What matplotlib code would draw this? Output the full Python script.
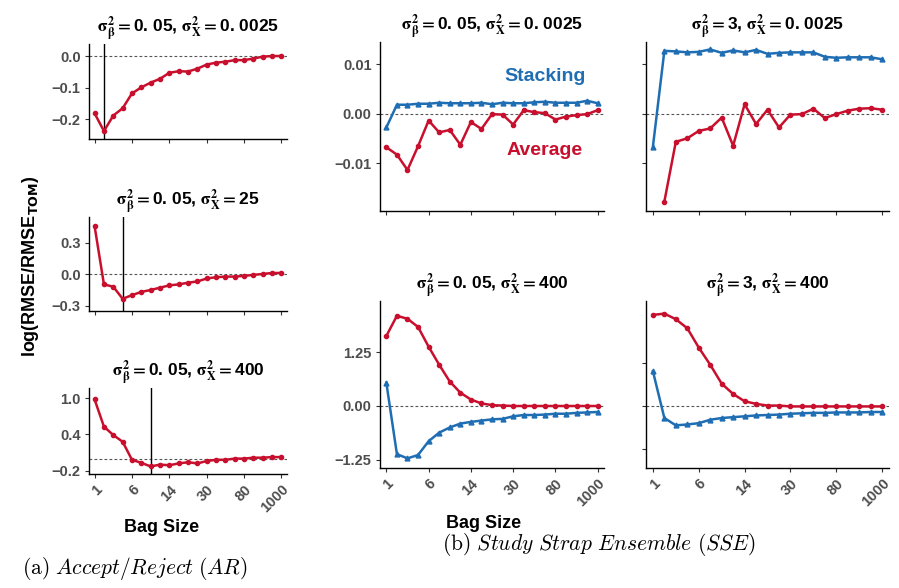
import numpy as np
import matplotlib
matplotlib.use('Agg')
import matplotlib.pyplot as plt

plt.rcParams['font.family'] = ['Liberation Sans', 'DejaVu Sans']
plt.rcParams['font.weight'] = 'bold'

RED = '#C8102E'
BLUE = '#1F6DB3'
TICK_GRAY = '#4D4D4D'

# bag sizes are plotted as 21 evenly spaced categories, labelled every 4th
bag_labels = ['1', '6', '14', '30', '80', '1000']
n_bags = 21
x = np.arange(n_bags)

# Accept/Reject curves (sigma_beta^2 = 0.05)
ar_x0025 = [-0.181, -0.237, -0.188, -0.165, -0.118, -0.099, -0.084, -0.072, -0.053, -0.048, -0.049,
            -0.040, -0.027, -0.021, -0.018, -0.013, -0.013, -0.008, -0.002, 0.000, 0.000]
ar_x25 = [0.455, -0.096, -0.118, -0.232, -0.198, -0.167, -0.149, -0.127, -0.105, -0.096, -0.080,
          -0.068, -0.040, -0.028, -0.022, -0.022, -0.015, -0.006, 0.003, 0.012, 0.012]
ar_x400 = [0.98, 0.53, 0.39, 0.28, -0.02, -0.07, -0.13, -0.10, -0.11, -0.08, -0.06,
           -0.08, -0.04, -0.02, -0.02, 0.00, 0.00, 0.015, 0.015, 0.025, 0.025]
ar_best = [1, 3, 6]  # position of the chosen bag size in each AR panel

# Study Strap Ensemble curves
sse_stack_b05_x0025 = [-0.0028, 0.0018, 0.0018, 0.0020, 0.0020, 0.0022, 0.0021, 0.0021, 0.0021, 0.0022, 0.0019,
                       0.0022, 0.0021, 0.0021, 0.0023, 0.0024, 0.0022, 0.0022, 0.0022, 0.0026, 0.0021]
sse_avg_b05_x0025 = [-0.0068, -0.0083, -0.0114, -0.0066, -0.0014, -0.0038, -0.0033, -0.0063, -0.0017, -0.0031, -0.0001,
                     -0.0002, -0.0022, 0.0007, 0.0003, 0.0001, -0.0012, -0.0006, -0.0003, -0.0001, 0.0007]
sse_stack_b3_x0025 = [-0.0067, 0.0127, 0.0126, 0.0124, 0.0125, 0.0130, 0.0123, 0.0128, 0.0124, 0.0129, 0.0121,
                      0.0123, 0.0124, 0.0124, 0.0124, 0.0115, 0.0113, 0.0114, 0.0114, 0.0114, 0.0110]
sse_avg_b3_x0025 = [np.nan, -0.0178, -0.0057, -0.0050, -0.0035, -0.0030, -0.0008, -0.0065, 0.0019, -0.0021, 0.0008,
                    -0.0028, -0.0002, -0.0001, 0.0010, -0.0009, -0.0001, 0.0006, 0.0010, 0.0011, 0.0008]
sse_stack_b05_x400 = [0.54, -1.12, -1.22, -1.14, -0.82, -0.62, -0.50, -0.41, -0.37, -0.34, -0.31,
                      -0.30, -0.24, -0.21, -0.21, -0.20, -0.18, -0.18, -0.16, -0.15, -0.14]
sse_avg_b05_x400 = [1.63, 2.10, 2.03, 1.84, 1.38, 0.96, 0.57, 0.31, 0.15, 0.06, 0.02,
                    0.01, 0.00, 0.00, 0.00, 0.00, 0.00, 0.00, 0.00, 0.00, 0.00]
sse_stack_b3_x400 = [0.81, -0.28, -0.45, -0.43, -0.40, -0.32, -0.28, -0.26, -0.24, -0.22, -0.21,
                     -0.20, -0.18, -0.17, -0.16, -0.16, -0.15, -0.15, -0.15, -0.14, -0.14]
sse_avg_b3_x400 = [2.12, 2.15, 2.02, 1.81, 1.36, 0.96, 0.52, 0.28, 0.11, 0.05, 0.01,
                   0.01, -0.01, -0.01, -0.01, -0.01, -0.01, -0.01, -0.01, -0.01, -0.01]


def title(beta, xvar):
    return (r'$\mathrm{\sigma}^2_\mathrm{\beta}=$' + beta + ', '
            + r'$\mathrm{\sigma}^2_\mathbf{X}=$' + xvar)


def fmt(v, nd):
    s = f'{abs(v):.{nd}f}'
    return ('\u2212' + s) if v < 0 else s


def style(ax, ylim, yticks, nd, show_y=True, show_x=False):
    ax.set_xlim(-0.6, n_bags - 0.4)
    ax.set_ylim(*ylim)
    for side in ['top', 'right']:
        ax.spines[side].set_visible(False)
    for side in ['left', 'bottom']:
        ax.spines[side].set_linewidth(1.0)
    ax.set_xticks(np.arange(0, n_bags, 4))
    if show_x:
        ax.set_xticklabels(bag_labels, rotation=45, ha='right', va='top',
                           rotation_mode='anchor', fontsize=10.5, color=TICK_GRAY)
    else:
        ax.set_xticklabels([])
    ax.set_yticks(yticks)
    if show_y:
        ax.set_yticklabels([fmt(v, nd) for v in yticks], fontsize=10.5, color=TICK_GRAY)
    else:
        ax.set_yticklabels([])
    ax.tick_params(length=3, width=0.8, color='#333333', pad=3)
    ax.axhline(0, color='#555555', lw=0.8, ls=(0, (2.5, 2)), zorder=1)


def draw_avg(ax, y):
    ax.plot(x, y, color=RED, lw=1.8, marker='o', ms=3, zorder=3)


def draw_stack(ax, y):
    ax.plot(x, y, color=BLUE, lw=1.8, marker='^', ms=3.5, zorder=3)


fig = plt.figure(figsize=(8.99, 5.88), dpi=100)

# (a) Accept/Reject column
ar_rects = [[0.099, 0.7636, 0.2203, 0.1616],
            [0.099, 0.4711, 0.2203, 0.1599],
            [0.099, 0.1939, 0.2203, 0.1463]]
ar_series = [ar_x0025, ar_x25, ar_x400]
ar_titles = [title('0. 05', '0. 0025'), title('0. 05', '25'), title('0. 05', '400')]
ar_lims = [(-0.262, 0.038), (-0.348, 0.543), (-0.255, 1.171)]
ar_yticks = [[-0.2, -0.1, 0.0], [-0.3, 0.0, 0.3], [-0.2, 0.4, 1.0]]

for i in range(3):
    ax = fig.add_axes(ar_rects[i])
    style(ax, ar_lims[i], ar_yticks[i], 1, show_x=(i == 2))
    ax.axvline(ar_best[i], color='black', lw=1.0, zorder=2)
    draw_avg(ax, ar_series[i])
    ax.set_title(ar_titles[i], fontsize=12.5, fontweight='bold', pad=8, math_fontfamily='stix')

# (b) Study Strap Ensemble 2x2 grid
sse_rects = [[0.4227, 0.6412, 0.2492, 0.2874],
             [0.7186, 0.6412, 0.2703, 0.2874],
             [0.4227, 0.2041, 0.2492, 0.2840],
             [0.7186, 0.2041, 0.2703, 0.2840]]
sse_stack = [sse_stack_b05_x0025, sse_stack_b3_x0025, sse_stack_b05_x400, sse_stack_b3_x400]
sse_avg = [sse_avg_b05_x0025, sse_avg_b3_x0025, sse_avg_b05_x400, sse_avg_b3_x400]
sse_titles = [title('0. 05', '0. 0025'), title('3', '0. 0025'),
              title('0. 05', '400'), title('3', '400')]
sse_lims = [(-0.0197, 0.0145), (-0.0197, 0.0145), (-1.443, 2.444), (-1.443, 2.444)]
sse_yticks = [[-0.01, 0.0, 0.01], [-0.01, 0.0, 0.01], [-1.25, 0.0, 1.25], [-1.0, 0.0, 1.0]]

for i in range(4):
    ax = fig.add_axes(sse_rects[i])
    style(ax, sse_lims[i], sse_yticks[i], 2, show_y=(i % 2 == 0), show_x=(i >= 2))
    draw_avg(ax, sse_avg[i])
    draw_stack(ax, sse_stack[i])
    ax.set_title(sse_titles[i], fontsize=12.5, fontweight='bold', pad=8, math_fontfamily='stix')
    if i == 0:
        ax.text(15, 0.0076, 'Stacking', color=BLUE, fontsize=14, fontweight='bold',
                ha='center', va='center')
        ax.text(15, -0.0074, 'Average', color=RED, fontsize=14, fontweight='bold',
                ha='center', va='center')

fig.text(0.034, 1 - 266 / 588, r'log(RMSE/RMSE$_\mathbf{TOM}$)', rotation=90, fontsize=13,
         fontweight='bold', ha='center', va='center', math_fontfamily='dejavusans')
fig.text(0.180, 1 - 528 / 588, 'Bag Size', fontsize=13, fontweight='bold', ha='center', va='center')
fig.text(0.538, 1 - 524 / 588, 'Bag Size', fontsize=13, fontweight='bold', ha='center', va='center')

fig.text(0.150, 1 - 568 / 588, r'$\mathrm{(a)}\ \mathit{Accept/Reject\ (AR)}$', fontsize=15.5,
         ha='center', va='center', math_fontfamily='cm')
fig.text(0.666, 1 - 545 / 588, r'$\mathrm{(b)}\ \mathit{Study\ Strap\ Ensemble\ (SSE)}$', fontsize=15.5,
         ha='center', va='center', math_fontfamily='cm')

fig.savefig('out.png', dpi=100)
